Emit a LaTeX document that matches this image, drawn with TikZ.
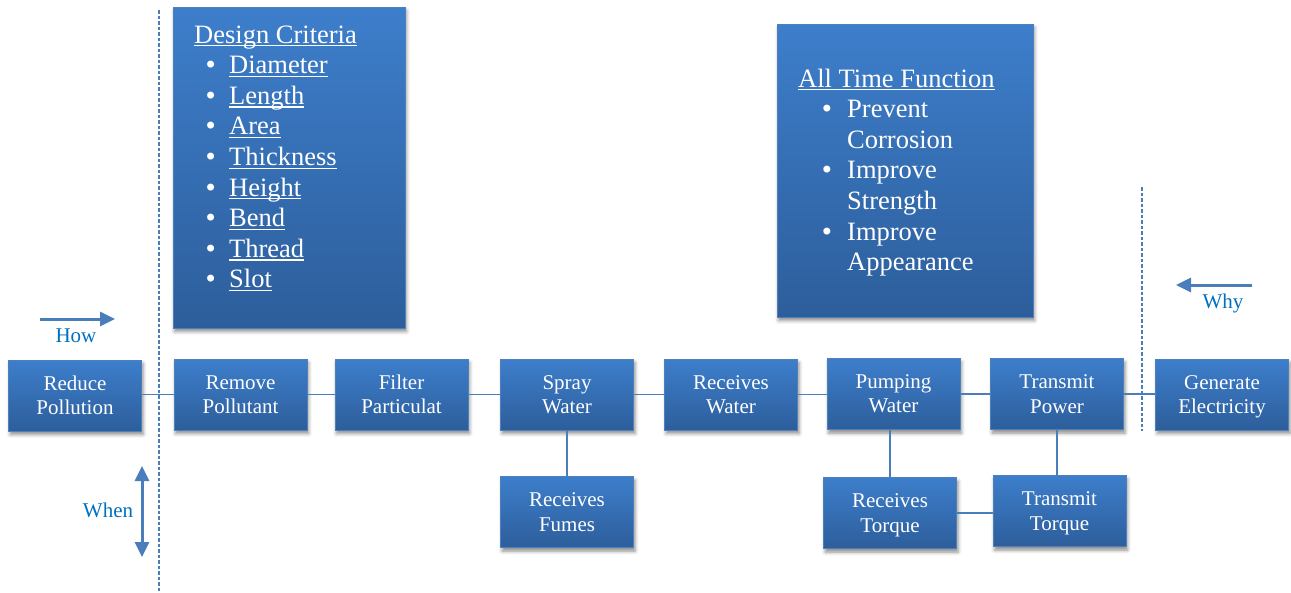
\documentclass[tikz,border=0pt]{standalone}
\usepackage{fontspec}
\setmainfont{Liberation Serif}
\newfontfamily\blfont{DejaVu Sans}
\usetikzlibrary{arrows.meta,shadows.blur}
\definecolor{boxtop}{RGB}{61,126,203}
\definecolor{boxbot}{RGB}{45,94,155}
\definecolor{boxline}{RGB}{78,128,190}
\definecolor{connc}{RGB}{74,126,187}
\definecolor{lblc}{RGB}{0,112,192}
\newcommand\bigblt{{\blfont\fontsize{24}{24}\selectfont\char"2022}}
\newcommand\bltA{\makebox[35pt][l]{\hspace{9.4pt}\bigblt}}
\newcommand\bltB{\makebox[49pt][l]{\hspace{21.7pt}\bigblt}}
\newcommand\uln[1]{\leavevmode\setbox0\hbox{#1}\rlap{\rule[-3.4pt]{\wd0}{1.3pt}}\box0}
\newcommand\nodp[1]{\raisebox{0pt}[\height][0pt]{#1}}
\tikzset{
  boxshadow/.style={blur shadow={shadow xshift=1.5pt, shadow yshift=-3.5pt, shadow blur radius=3.5pt, shadow opacity=45}},
  fbox/.style={draw=boxline, line width=0.8pt, top color=boxtop, bottom color=boxbot,
    minimum width=133pt, minimum height=71pt, inner sep=0pt, align=center, text=white,
    font=\fontsize{21}{24.4}\selectfont, boxshadow},
  bigbox/.style={draw=boxline, line width=0.8pt, top color=boxtop, bottom color=boxbot,
    inner sep=0pt, boxshadow},
  listtxt/.style={inner sep=0pt, text=white, font=\fontsize{26.5}{30.6}\selectfont},
  conn/.style={draw=connc, line width=1.5pt},
  divider/.style={draw=connc, line width=1.5pt, dash pattern=on 3.5pt off 2pt},
  lbltxt/.style={inner sep=0pt, text=lblc, font=\fontsize{21}{24.4}\selectfont},
  bigarrow/.style={draw=connc, line width=3pt},
}
\begin{document}
\begin{tikzpicture}[x=1pt,y=-1pt]
\useasboundingbox (0,0) rectangle (1291,592);

% dividers
\coordinate (d1t) at (159,10);
\coordinate (d1b) at (159,592);
\coordinate (d2t) at (1142,187);
\coordinate (d2b) at (1142,431);
\draw[divider] (d1t) -- (d1b);
\draw[divider] (d2t) -- (d2b);

% big boxes
\node[bigbox, minimum width=232pt, minimum height=321pt] (dc) at (289,167.5) {};
\node[bigbox, minimum width=256pt, minimum height=293pt] (atf) at (905,170.5) {};
\node[listtxt, anchor=base west] (dctxt) at (194,43) {\begin{tabular}[t]{@{}l@{}}
\uln{Design Criteria}\\
\bltA\uln{Diameter}\\
\bltA\uln{Length}\\
\bltA\uln{Area}\\
\bltA\uln{Thickness}\\
\bltA\uln{Height}\\
\bltA\uln{Bend}\\
\bltA\uln{Thread}\\
\bltA\uln{Slot}
\end{tabular}};
\node[listtxt, anchor=base west] (atftxt) at (798,87) {\begin{tabular}[t]{@{}l@{}}
\uln{All Time Function}\\
\bltB Prevent\\
\hspace*{49pt}Corrosion\\
\bltB Improve\\
\hspace*{49pt}Strength\\
\bltB Improve\\
\hspace*{49pt}Appearance
\end{tabular}};

% function boxes
\node[fbox] (rp) at (75,395.5) {Reduce\\Pollution};
\node[fbox] (rm) at (240.5,394.5) {Remove\\Pollutant};
\node[fbox] (fp) at (401.5,394.5) {Filter\\Particulat};
\node[fbox] (sw) at (567,394.5) {Spray\\Water};
\node[fbox] (rw) at (731,394.5) {Receives\\Water};
\node[fbox] (pw) at (893.5,394) {Pumping\\Water};
\node[fbox] (tp) at (1057,394) {Transmit\\Power};
\node[fbox] (ge) at (1222,394.5) {Generate\\\nodp{Electricity}};
\node[fbox] (rf) at (567,512) {Receives\\Fumes};
\node[fbox] (rt) at (890,513) {Receives\\\nodp{Torque}};
\node[fbox] (tt) at (1059.5,511) {Transmit\\\nodp{Torque}};

% connectors
\draw[conn] (rp.east |- rm.west) -- (rm.west);
\draw[conn] (rm) -- (fp);
\draw[conn] (fp) -- (sw);
\draw[conn] (sw) -- (rw);
\draw[conn] (rw.east) -- (rw.east -| pw.west);
\draw[conn] (pw) -- (tp);
\draw[conn] (tp.east) -- (tp.east -| ge.west);
\draw[conn] (sw) -- (rf);
\draw[conn] (rt.north) -- (rt.north |- pw.south);
\draw[conn] (tp.south) -- (tp.south |- tt.north);
\draw[conn] (rt.east) -- (rt.east -| tt.west);

% how / when / why
\coordinate (howS) at (40,319);
\coordinate (howE) at (115,319);
\draw[bigarrow, -{Triangle[length=15pt,width=14pt]}] (howS) -- (howE);
\node[lbltxt, anchor=base] (how) at (76,342.5) {How};
\coordinate (whenT) at (142,466);
\coordinate (whenB) at (142,557);
\draw[bigarrow, {Triangle[length=15pt,width=14pt]}-{Triangle[length=15pt,width=14pt]}] (whenT) -- (whenB);
\node[lbltxt, anchor=base] (when) at (108,517) {When};
\coordinate (whyS) at (1252,285);
\coordinate (whyE) at (1176,285);
\draw[bigarrow, -{Triangle[length=15pt,width=14pt]}] (whyS) -- (whyE);
\node[lbltxt, anchor=base] (why) at (1223,308) {Why};
\end{tikzpicture}
\end{document}
